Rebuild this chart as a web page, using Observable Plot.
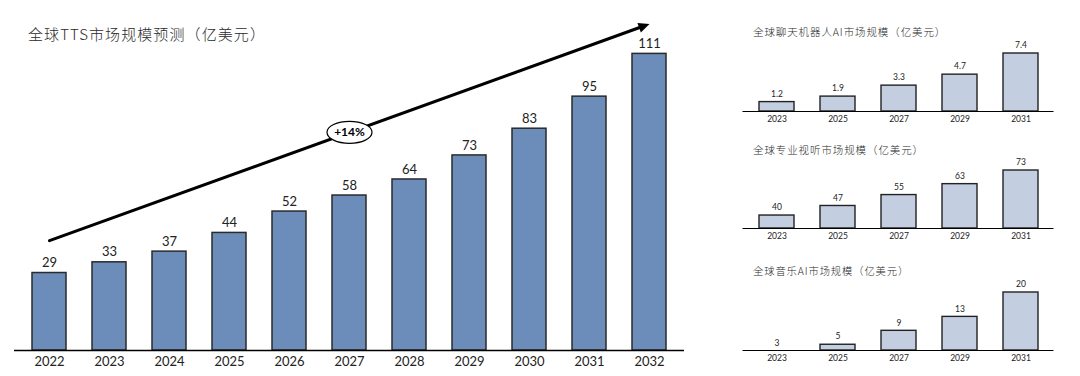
<!DOCTYPE html>
<html><head><meta charset="utf-8">
<script src="https://cdn.jsdelivr.net/npm/d3@7"></script>
<script src="https://cdn.jsdelivr.net/npm/@observablehq/plot@0.6"></script>
<style>
html,body{margin:0;padding:0;background:#fff}
#root{position:relative;width:1080px;height:376px;overflow:hidden}
.t{position:absolute;white-space:nowrap;color:#2a2a2a;font-family:"Noto Sans CJK SC",sans-serif;line-height:1;font-weight:300}
.c{position:absolute}
.c svg{overflow:visible}
</style></head><body>
<div id="root"></div>
<script>
// ---- data ----
const years = ["2022","2023","2024","2025","2026","2027","2028","2029","2030","2031","2032"];
const ttsValues = [29,33,37,44,52,58,64,73,83,95,111];
const subYears = ["2023","2025","2027","2029","2031"];
const chatbotValues = [1.2,1.9,3.3,4.7,7.4];
const avValues = [40,47,55,63,73];
const musicValues = [3,5,9,13,20];
const mainTitle = "全球TTS市场规模预测（亿美元）";
const subTitles = ["全球聊天机器人AI市场规模（亿美元）","全球专业视听市场规模（亿美元）","全球音乐AI市场规模（亿美元）"];
const cagrLabel = "+14%";
const trendStartYear = "2022", trendStartValue = 41.1;
const trendEndYear = "2032", trendEndValue = 122.2;
const trendMidYear = "2027";

const root = document.getElementById("root");
const numFont = "Lato, 'Noto Sans', sans-serif";

const tts = years.map((y, i) => ({year: y, value: ttsValues[i]}));
const trend = [{x1: trendStartYear, y1: trendStartValue, x2: trendEndYear, y2: trendEndValue}];
const mid = [{x: trendMidYear, y: (trendStartValue + trendEndValue) / 2, label: cagrLabel}];

const ellipseSymbol = {
  draw(ctx) {
    const rx = 22.5, ry = 11, k = 0.5523;
    ctx.moveTo(rx, 0);
    ctx.bezierCurveTo(rx, ry * k, rx * k, ry, 0, ry);
    ctx.bezierCurveTo(-rx * k, ry, -rx, ry * k, -rx, 0);
    ctx.bezierCurveTo(-rx, -ry * k, -rx * k, -ry, 0, -ry);
    ctx.bezierCurveTo(rx * k, -ry, rx, -ry * k, rx, 0);
    ctx.closePath();
  }
};
function triangleSymbol(a) {
  return {
    draw(ctx) {
      const L = 11, w = 5;
      const bx = -L * Math.cos(a), by = -L * Math.sin(a);
      const nx = -Math.sin(a), ny = Math.cos(a);
      ctx.moveTo(0, 0);
      ctx.lineTo(bx + w * nx, by + w * ny);
      ctx.lineTo(bx - w * nx, by - w * ny);
      ctx.closePath();
    }
  };
}

function mainChart(angle) {
  return Plot.plot({
    width: 700, height: 376,
    marginLeft: 14, marginRight: 16, marginTop: 24, marginBottom: 26,
    x: {domain: years, paddingInner: 0.44, paddingOuter: 0.22, label: null, tickSize: 0, tickPadding: 6},
    y: {domain: [0, 122], axis: null},
    style: {fontFamily: numFont, fontSize: "13px", color: "#222", background: "transparent", overflow: "visible"},
    marks: [
      Plot.barY(tts, {x: "year", y: "value", fill: "#6c8cba", stroke: "#2a2a2a", strokeWidth: 1.5}),
      Plot.ruleY([0], {stroke: "#000", strokeWidth: 1.5}),
      Plot.text(tts, {x: "year", y: "value", text: d => String(d.value), dy: -10, fontSize: 13, fill: "#222"}),
      Plot.arrow(trend, {x1: "x1", y1: "y1", x2: "x2", y2: "y2", stroke: "#000", strokeWidth: 3, headLength: 0, insetEnd: 9}),
      angle == null ? null : Plot.dot(trend, {x: "x2", y: "y2", symbol: triangleSymbol(angle), fill: "#000", stroke: "none", r: 5}),
      Plot.dot(mid, {x: "x", y: "y", symbol: ellipseSymbol, fill: "#fff", stroke: "#000", strokeWidth: 1.2, r: 10}),
      Plot.text(mid, {x: "x", y: "y", text: "label", fontWeight: "bold", fontSize: 12, fill: "#000"})
    ].filter(Boolean)
  });
}

// two passes: first to read the screen angle of the trend arrow from the scales
let probe = mainChart(null);
const sx = probe.scale("x"), sy = probe.scale("y");
const bw = sx.bandwidth || 0;
const px1 = sx.apply(trendStartYear) + bw / 2, px2 = sx.apply(trendEndYear) + bw / 2;
const py1 = sy.apply(trendStartValue), py2 = sy.apply(trendEndValue);
const angle = Math.atan2(py2 - py1, px2 - px1);
const main = mainChart(angle);
const mainWrap = document.createElement("div");
mainWrap.className = "c"; mainWrap.style.left = "0px"; mainWrap.style.top = "0px";
mainWrap.appendChild(main);
root.appendChild(mainWrap);

function addTitle(text, left, top, size, spacing) {
  const d = document.createElement("div");
  d.className = "t"; d.textContent = text;
  d.style.left = left + "px"; d.style.top = top + "px"; d.style.fontSize = size + "px";
  d.style.letterSpacing = spacing + "px";
  root.appendChild(d);
}
addTitle(mainTitle, 28, 26, 15, 1.1);

function subChart(values, domain, top) {
  const data = subYears.map((y, i) => ({year: y, value: values[i]}));
  const p = Plot.plot({
    width: 320, height: 92,
    marginLeft: 2.5, marginRight: 6.5, marginTop: 14, marginBottom: 20,
    x: {domain: subYears, paddingInner: 0.433, paddingOuter: 0.234, label: null, tickSize: 0, tickPadding: 4.5},
    y: {domain, axis: null},
    style: {fontFamily: numFont, fontSize: "8.5px", color: "#222", background: "transparent", overflow: "visible"},
    marks: [
      Plot.barY(data, {x: "year", y1: domain[0], y2: "value", filter: d => d.value > domain[0], fill: "#c4cee1", stroke: "#222", strokeWidth: 1.4}),
      Plot.ruleY([domain[0]], {stroke: "#000", strokeWidth: 1}),
      Plot.text(data, {x: "year", y: "value", text: d => String(d.value), dy: -8, fontSize: 8.5, fill: "#222"})
    ]
  });
  const w = document.createElement("div");
  w.className = "c"; w.style.left = "740px"; w.style.top = top + "px";
  w.appendChild(p);
  root.appendChild(w);
}
subChart(chatbotValues, [0, 7.4], 39);
subChart(avValues, [30.5, 73], 156);
subChart(musicValues, [3.35, 20], 278);
addTitle(subTitles[0], 753, 27, 10.5, 0.9);
addTitle(subTitles[1], 753, 145, 10.5, 0.9);
addTitle(subTitles[2], 753, 266, 10.3, 0.9);
</script>
</body></html>
